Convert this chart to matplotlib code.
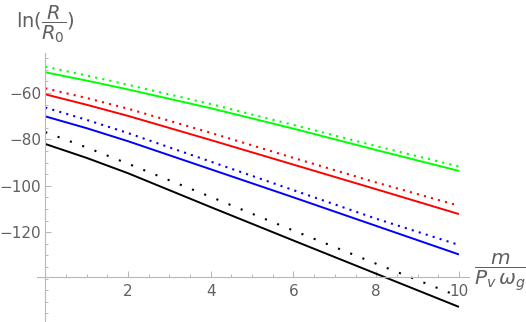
import matplotlib.pyplot as plt
import numpy as np

# values at x = 0, 1, 2, 4, 6, 8, 10
x = [0, 1, 2, 4, 6, 8, 10]
green_solid = [-51.1, -54.7, -58.5, -66.6, -75.4, -84.6, -93.6]
green_dot = [-48.7, -52.5, -56.5, -64.8, -73.8, -82.9, -91.7]
red_solid = [-60.6, -65.1, -69.9, -80.3, -90.9, -101.5, -112.2]
red_dot = [-58.0, -62.2, -66.8, -77.2, -88.0, -98.6, -108.6]
blue_solid = [-70.1, -75.2, -80.8, -92.9, -105.0, -117.3, -129.6]
blue_dot = [-66.3, -71.6, -77.3, -89.6, -101.9, -114.2, -125.5]
black_solid = [-82.0, -88.0, -94.6, -109.2, -123.6, -137.9, -152.2]
black_dot = [-76.9, -83.5, -90.5, -104.8, -119.3, -133.6, -147.7]

x_ticks = [2, 4, 6, 8, 10]
y_ticks = [-120, -100, -80, -60]

W, H = 526, 322
fig = plt.figure(figsize=(W / 100, H / 100), dpi=100)
# axes box placed in pixels: x from 37 to 469, y from 53 (top) to 322
ax = fig.add_axes([37 / W, 0, (469.3 - 37) / W, (322 - 53) / H])
ax.set_xlim(-0.2, 10.25)
ax.set_ylim(-158.7, -42.8)

series = [
    (green_solid, green_dot, '#00ff00', (0, (1.0, 2.5))),
    (red_solid, red_dot, '#ff0000', (0, (1.0, 2.5))),
    (blue_solid, blue_dot, '#0000ff', (0, (1.0, 2.5))),
    (black_solid, black_dot, '#000000', (0, (1.0, 5.3))),
]
for solid, dotted, c, dots in series:
    ax.plot(x, solid, color=c, lw=1.4, solid_capstyle='butt')
    ax.plot(x, dotted, color=c, lw=1.5, linestyle=dots, dash_capstyle='butt')

axis_col = '#b8b8b8'
lab_col = '#606060'
for s in ['top', 'right']:
    ax.spines[s].set_visible(False)
ax.spines['left'].set_position(('data', 0))
ax.spines['bottom'].set_position(('data', -139.4))
for s in ['left', 'bottom']:
    ax.spines[s].set_color(axis_col)
    ax.spines[s].set_linewidth(0.8)

ax.set_xticks(x_ticks)
ax.set_xticks(np.arange(0.5, 10.01, 0.5), minor=True)
ax.set_yticks(y_ticks)
ax.set_yticks(np.arange(-155, -44, 5), minor=True)
ax.tick_params(which='major', direction='in', length=4, width=0.8,
               color=axis_col, labelcolor=lab_col, labelsize=11)
ax.tick_params(which='minor', direction='in', length=2, width=0.7,
               color=axis_col)
ax.tick_params(axis='x', pad=5)
ax.tick_params(axis='y', pad=3)
ax.patch.set_alpha(0)

plt.rcParams['mathtext.fontset'] = 'dejavusans'
fig.text(16 / W, 1 - 24 / H, r'$\mathrm{ln}(\dfrac{R}{R_0})$', color=lab_col,
         fontsize=14, ha='left', va='center')
fig.text(500 / W, 1 - 272 / H, r'$\dfrac{m}{P_v\,\omega_g}$', color=lab_col,
         fontsize=14.5, ha='center', va='center')

fig.savefig('out.png', dpi=100)
